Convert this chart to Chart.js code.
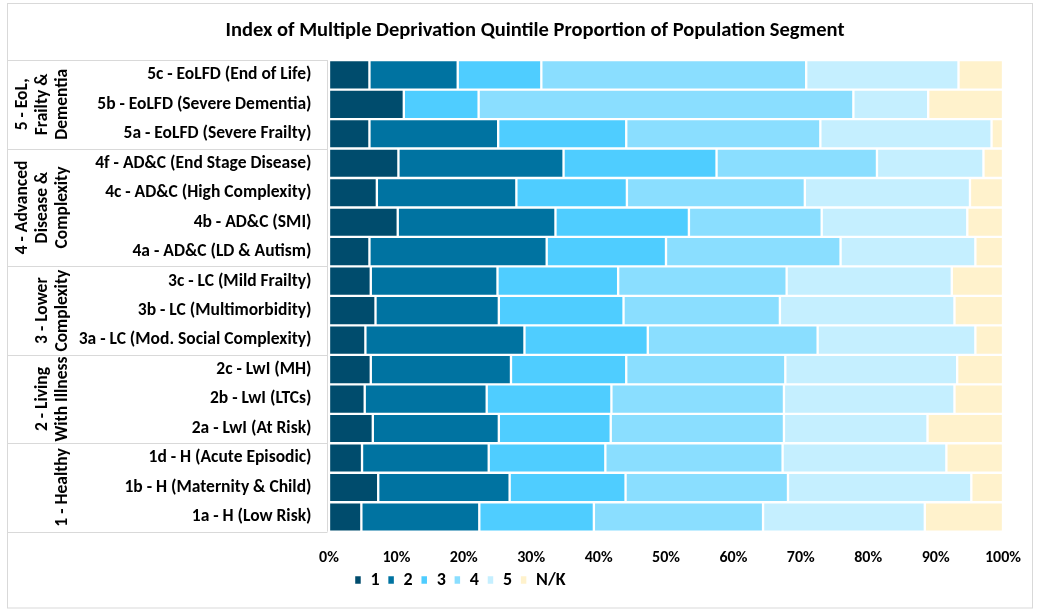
<!DOCTYPE html>
<html><head><meta charset="utf-8">
<script src="https://cdn.jsdelivr.net/npm/chart.js@4"></script>
<style>html,body{margin:0;padding:0;background:#fff}#wrap{position:relative;width:1045px;height:613px}</style>
</head>
<body>
<div id="wrap"><canvas id="chart" width="1045" height="613"></canvas></div>
<script>
// ---- data ----
const categories = [
  '5c - EoLFD (End of Life)', '5b - EoLFD (Severe Dementia)', '5a - EoLFD (Severe Frailty)',
  '4f - AD&C (End Stage Disease)', '4c - AD&C (High Complexity)', '4b - AD&C (SMI)', '4a - AD&C (LD & Autism)',
  '3c - LC (Mild Frailty)', '3b - LC (Multimorbidity)', '3a - LC (Mod. Social Complexity)',
  '2c - LwI (MH)', '2b - LwI (LTCs)', '2a - LwI (At Risk)',
  '1d - H (Acute Episodic)', '1b - H (Maternity & Child)', '1a - H (Low Risk)'
];
const seriesNames = ['1', '2', '3', '4', '5', 'N/K'];
const quintile1 = [6.0, 11.1, 6.0, 10.3, 7.1, 10.2, 6.0, 6.2, 6.9, 5.4, 6.2, 5.3, 6.5, 4.9, 7.3, 4.8];
const quintile2 = [13.1, 0, 19.1, 24.5, 20.7, 23.4, 26.3, 18.8, 18.3, 23.6, 20.8, 18.1, 18.7, 18.8, 19.5, 17.5];
const quintile3 = [12.4, 11.1, 19.0, 22.7, 16.4, 19.8, 17.7, 17.9, 18.5, 18.3, 17.1, 18.5, 16.6, 17.3, 17.2, 17.0];
const quintile4 = [39.3, 55.6, 28.8, 23.8, 26.4, 19.7, 25.9, 25.0, 23.2, 25.2, 23.6, 25.6, 25.7, 26.3, 24.1, 25.1];
const quintile5 = [22.6, 11.1, 25.4, 15.8, 24.5, 21.6, 20.0, 24.5, 25.9, 23.4, 25.5, 25.3, 21.3, 24.3, 27.2, 24.0];
const notKnown  = [6.6, 11.1, 1.7, 2.9, 4.9, 5.3, 4.1, 7.6, 7.2, 4.1, 6.8, 7.2, 11.2, 8.4, 4.7, 11.6];
const xTickValues = [0, 10, 20, 30, 40, 50, 60, 70, 80, 90, 100];
const groupLabels = [
  ['5 - EoL,', 'Frailty &', 'Dementia'],
  ['4 - Advanced', 'Disease &', 'Complexity'],
  ['3 - Lower', 'Complexity'],
  ['2 - Living', 'With Illness'],
  ['1 - Healthy']
];
const groupSizes = [3, 4, 3, 3, 3];
const titleText = 'Index of Multiple Deprivation Quintile Proportion of Population Segment';

// ---- styles ----
const colors = ['#004C6D', '#0073A1', '#4FCDFF', '#8ADEFF', '#C5EFFF', '#FFF2CC'];
const FONT = 'Carlito, Calibri, Lato, sans-serif';
const GRID = '#D9D9D9';
Chart.defaults.font.family = FONT;
Chart.defaults.color = '#000';

const values = [quintile1, quintile2, quintile3, quintile4, quintile5, notKnown];
const datasets = seriesNames.map((n, i) => ({
  label: n,
  data: values[i],
  backgroundColor: colors[i],
  borderColor: '#FFFFFF',
  borderWidth: 1.5,
  borderSkipped: false,
  barPercentage: 1,
  categoryPercentage: 1
}));

const PAD_L = 67;

const frame = {
  id: 'frame',
  beforeDraw(chart) {
    const c = chart.ctx;
    c.save();
    c.strokeStyle = GRID; c.lineWidth = 1;
    c.strokeRect(7.5, 3.5, 1025, 604.5);
    c.restore();
  },
  afterLayout(chart) {
    const lg = chart.legend;
    if (!lg) return;
    const cx = 460, half = 320;
    lg.left = cx - half; lg.right = cx + half; lg.width = 2 * half;
    lg.top = 563; lg.bottom = lg.top + lg.height;
  },
  afterDraw(chart) {
    const c = chart.ctx, y = chart.scales.y, a = chart.chartArea;
    const bound = i => (i <= 0) ? a.top : (i >= categories.length ? a.bottom : (y.getPixelForValue(i - 1) + y.getPixelForValue(i)) / 2);
    c.save();
    c.strokeStyle = GRID; c.lineWidth = 1;
    c.beginPath();
    c.moveTo(327.5, a.top); c.lineTo(327.5, a.bottom);
    let idx = 0;
    const edges = [0];
    groupSizes.forEach(s => { idx += s; edges.push(idx); });
    edges.forEach(e => {
      const py = Math.round(bound(e)) + 0.5;
      c.moveTo(7.5, py); c.lineTo(327.5, py);
    });
    c.stroke();
    // group labels (rotated)
    c.fillStyle = '#000';
    c.font = 'bold 17.5px ' + FONT;
    c.textAlign = 'center';
    c.textBaseline = 'alphabetic';
    groupLabels.forEach((lines, g) => {
      const cy = (bound(edges[g]) + bound(edges[g + 1])) / 2;
      const n = lines.length;
      lines.forEach((t, k) => {
        const bx = 66.7 - 20 * (n - 1 - k);
        c.save();
        c.translate(bx, cy);
        c.rotate(-Math.PI / 2);
        c.fillText(t, 0, 0);
        c.restore();
      });
    });
    c.restore();
  }
};

new Chart(document.getElementById('chart'), {
  type: 'bar',
  data: { labels: categories, datasets },
  options: {
    indexAxis: 'y',
    responsive: false,
    animation: false,
    devicePixelRatio: 1,
    layout: { padding: { left: PAD_L, right: 42, top: 0, bottom: 0 } },
    plugins: {
      title: {
        display: true, text: titleText,
        font: { family: FONT, size: 20.5, weight: 'bold' }, color: '#000',
        padding: { top: 19, bottom: 16.5 }
      },
      legend: {
        position: 'bottom',
        labels: { boxWidth: 7, boxHeight: 9, padding: 8, color: '#000',
                  font: { family: FONT, size: 18, weight: 'bold' } }
      },
      tooltip: { enabled: false }
    },
    scales: {
      x: {
        stacked: true, min: 0, max: 100,
        afterBuildTicks: s => { s.ticks = xTickValues.map(v => ({ value: v })); },
        ticks: { callback: v => v + '%', padding: 17, color: '#000', maxRotation: 0,
                 font: { family: FONT, size: 16, weight: 'bold' } },
        grid: { display: false, drawTicks: false },
        border: { display: false },
        afterFit: s => { const lh = s.chart.legend ? s.chart.legend.height : 0; s.height = Math.max(10, 613 - 531.7 - lh); }
      },
      y: {
        stacked: true,
        ticks: { autoSkip: false, padding: 17.5, color: '#000',
                 font: { family: FONT, size: 17.5, weight: 'bold' } },
        grid: { display: false, drawTicks: false },
        border: { display: false },
        afterFit: s => { s.width = 329 - PAD_L; }
      }
    }
  },
  plugins: [frame]
});
</script>
</body></html>
